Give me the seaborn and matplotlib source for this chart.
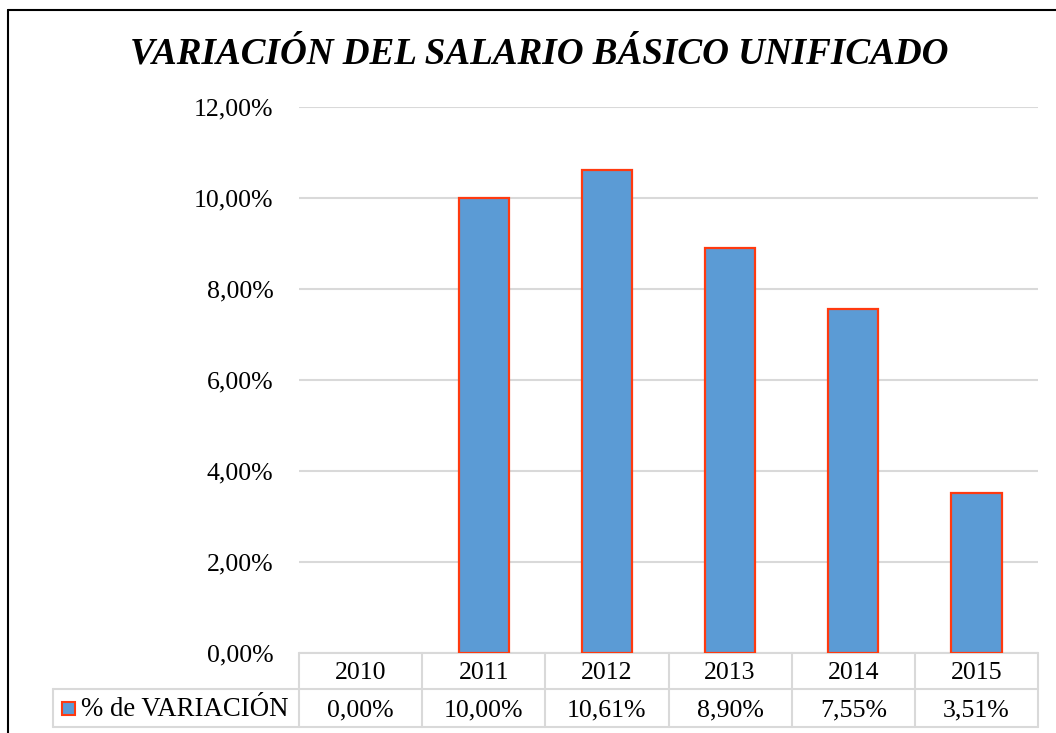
import pandas as pd
import matplotlib.pyplot as plt
import matplotlib.transforms as mtransforms
import seaborn as sns

# data
years = ["2010", "2011", "2012", "2013", "2014", "2015"]
variacion = [0.00, 10.00, 10.61, 8.90, 7.55, 3.51]
serie_label = "% de VARIACIÓN"
titulo = "VARIACIÓN DEL SALARIO BÁSICO UNIFICADO"
y_ticks = [0, 2, 4, 6, 8, 10, 12]

bar_color = "#5B9BD5"
edge_color = "#FF3A10"
grid_color = "#D9D9D9"
fs = 18.6


def fmt_pct(v):
    return f"{v:.2f}".replace(".", ",") + "%"


sns.set_theme(style="white")
plt.rcParams["font.family"] = ["Liberation Serif", "DejaVu Serif"]
plt.rcParams["text.color"] = "black"
plt.rcParams["ytick.color"] = "black"

df = pd.DataFrame({"year": years, "pct": variacion})

fig = plt.figure(figsize=(10.56, 7.33), dpi=100)
ax = fig.add_axes([299 / 1056, 1 - 653 / 733, (1038 - 299) / 1056, (653 - 107) / 733])

sns.barplot(data=df, x="year", y="pct", color=bar_color, edgecolor=edge_color,
            linewidth=1.6, width=0.41, saturation=1, ax=ax, zorder=3)
# a zero bar is not drawn at all
for p, v in zip(ax.patches, variacion):
    if v == 0:
        p.set_visible(False)

ax.set_xlim(-0.5, len(years) - 0.5)
ax.set_ylim(0, 12)
ax.set_yticks(y_ticks)
ax.set_yticklabels([fmt_pct(t) for t in y_ticks], fontsize=fs)
ax.tick_params(axis="y", length=0, pad=18.5, colors="black")
ax.set_xticks([])
ax.set_xlabel("")
ax.set_ylabel("")
for s in ax.spines.values():
    s.set_visible(False)
ax.yaxis.grid(True, color=grid_color, linewidth=1.5, zorder=0)
ax.set_axisbelow(True)

# data table under the axes
tr = mtransforms.blended_transform_factory(ax.transData, ax.transAxes)
h1 = 36 / 546
h2 = 74 / 546
n = len(years)
line_kw = dict(color=grid_color, linewidth=1.5, transform=tr, clip_on=False)
ax.plot([-0.5, n - 0.5], [0, 0], **line_kw)
ax.plot([-2.5, n - 0.5], [-h1, -h1], **line_kw)
ax.plot([-2.5, n - 0.5], [-h2, -h2], **line_kw)
for k in range(n + 1):
    ax.plot([k - 0.5, k - 0.5], [0, -h2], **line_kw)
ax.plot([-2.5, -2.5], [-h1, -h2], **line_kw)

for i, (yr, v) in enumerate(zip(years, variacion)):
    ax.text(i, -h1 / 2 - 0.004, yr, transform=tr, ha="center", va="center", fontsize=fs)
    ax.text(i, -(h1 + h2) / 2 - 0.004, fmt_pct(v), transform=tr, ha="center", va="center",
            fontsize=fs)

# legend key in the table
fig.patches.append(plt.Rectangle((62 / 1056, 1 - 715 / 733), 13 / 1056, 13 / 733,
                                 transform=fig.transFigure, facecolor=bar_color,
                                 edgecolor=edge_color, linewidth=1.5))
fig.text(81 / 1056, 1 - 710 / 733, serie_label, ha="left", va="center", fontsize=19.3)

# title
fig.text(539 / 1056, 1 - 54 / 733, titulo, ha="center", va="center",
         fontsize=26.7, fontweight="bold", fontstyle="italic")

# outer frame (left and top)
fig.add_artist(plt.Line2D([8 / 1056, 8 / 1056], [0, 1 - 10 / 733], color="black",
                          linewidth=1.5, transform=fig.transFigure))
fig.add_artist(plt.Line2D([8 / 1056, 1], [1 - 10 / 733, 1 - 10 / 733], color="black",
                          linewidth=1.5, transform=fig.transFigure))

fig.savefig("out.png", dpi=100, facecolor="white")
